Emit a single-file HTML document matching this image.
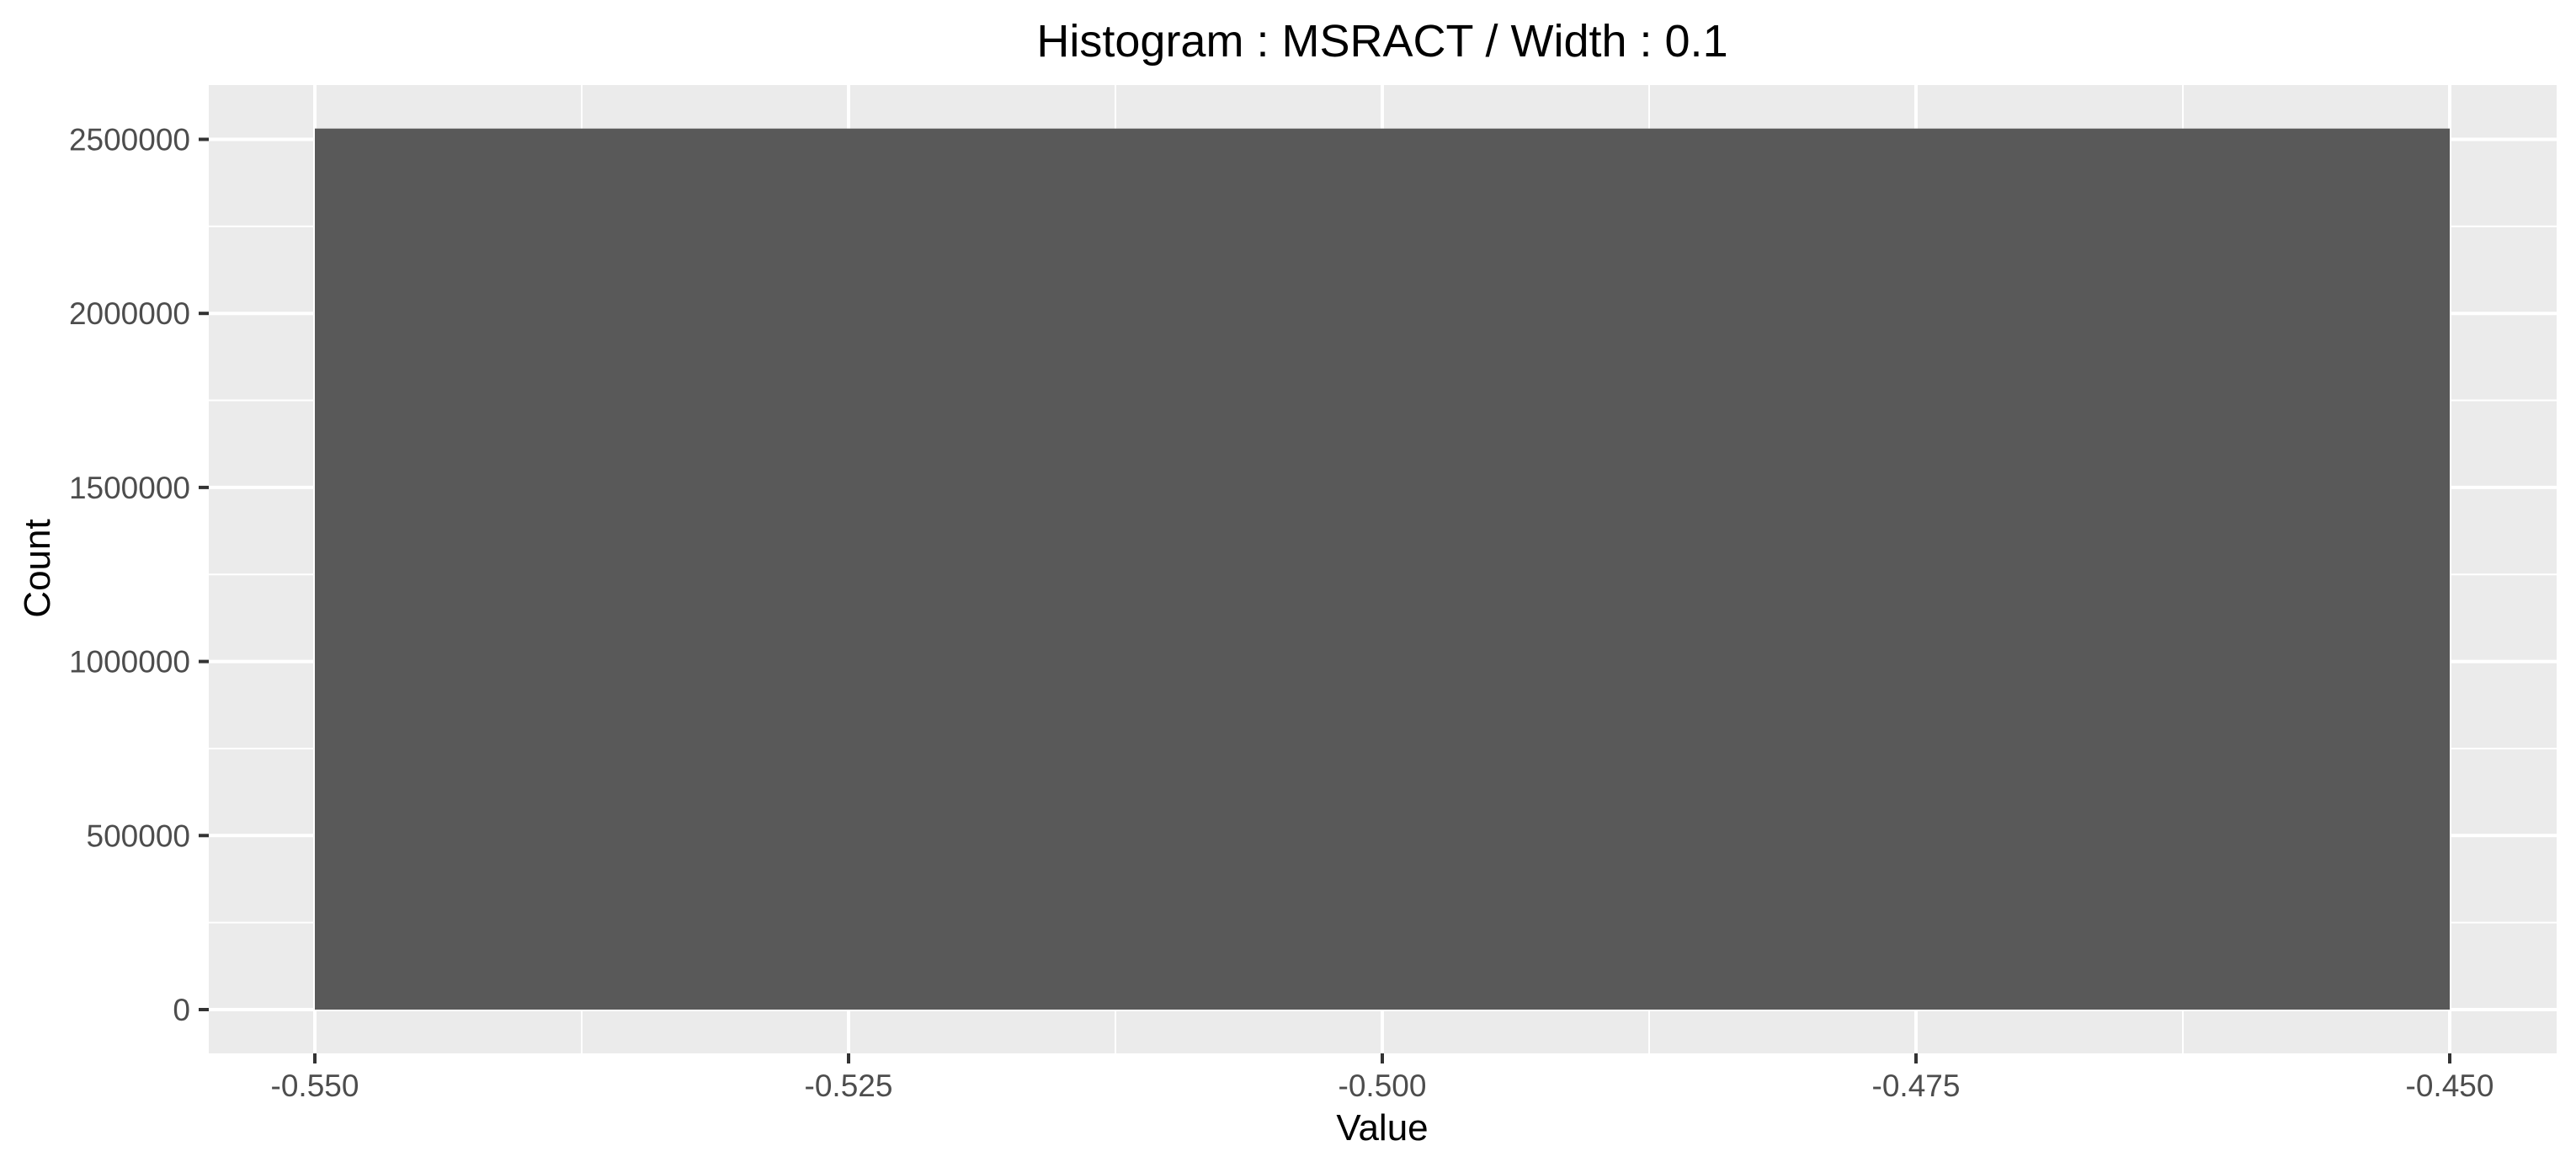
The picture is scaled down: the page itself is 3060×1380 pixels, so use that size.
<!DOCTYPE html>
<html><head><meta charset="utf-8"><style>
html,body{margin:0;padding:0;background:#fff;}
svg{display:block;font-family:"Liberation Sans",Arial,sans-serif;}
</style></head><body>
<svg id="chart" width="3060" height="1380" viewBox="0 0 3060 1380">
<rect x="0" y="0" width="3060" height="1380" fill="#fff"/>
<text x="1642" y="67" font-size="54" text-anchor="middle" fill="#000">Histogram : MSRACT / Width : 0.1</text>
<rect x="248" y="101" width="2789" height="1150" fill="#EBEBEB"/>
<g id="grid"></g>
<g id="bars"></g>
<g id="yaxis"></g>
<g id="xaxis"></g>
<text x="1642" y="1354" font-size="44" text-anchor="middle" fill="#000">Value</text>
<text transform="translate(59,675) rotate(-90)" font-size="44" text-anchor="middle" fill="#000">Count</text>
</svg>
<script>
const binStarts = [-0.55];
const binEnds = [-0.45];
const counts = [2531000];
const xTicks = [-0.55, -0.525, -0.5, -0.475, -0.45];
const xTickLabels = ["-0.550", "-0.525", "-0.500", "-0.475", "-0.450"];
const yTicks = [0, 500000, 1000000, 1500000, 2000000, 2500000];
const yTickLabels = ["0", "500000", "1000000", "1500000", "2000000", "2500000"];

const NS = "http://www.w3.org/2000/svg";
const PL = 248, PR = 3037, PT = 101, PB = 1251;
function xs(v){ return 374 + (v - (-0.55)) / 0.1 * (2910 - 374); }
function ys(v){ return 1199 - v / 500000 * 206.7; }
function mk(tag, attrs, parent){
  const e = document.createElementNS(NS, tag);
  for (const k in attrs) e.setAttribute(k, attrs[k]);
  parent.appendChild(e);
  return e;
}
const grid = document.getElementById('grid');
for (let i = 0; i < xTicks.length - 1; i++) {
  const m = (xTicks[i] + xTicks[i+1]) / 2;
  const l = mk('line', {x1: xs(m), x2: xs(m), y1: PT, y2: PB, stroke: '#fff', 'stroke-width': 2}, grid);
  
  
}
for (let i = 0; i < yTicks.length; i++) {
  const m = i < yTicks.length - 1 ? (yTicks[i] + yTicks[i+1]) / 2 : yTicks[i] + 250000;
  const yy = ys(m);
  if (yy < PT) continue;
  const l = mk('line', {x1: PL, x2: PR, y1: yy, y2: yy, stroke: '#fff', 'stroke-width': 2}, grid);
  
  
}
xTicks.forEach(v => {
  const l = mk('line', {x1: xs(v), x2: xs(v), y1: PT, y2: PB, stroke: '#fff', 'stroke-width': 4}, grid);
  
  
});
yTicks.forEach(v => {
  const l = mk('line', {x1: PL, x2: PR, y1: ys(v), y2: ys(v), stroke: '#fff', 'stroke-width': 4}, grid);
  
  
});
const bars = document.getElementById('bars');
counts.forEach((c, i) => {
  const x0 = xs(binStarts[i]), x1 = xs(binEnds[i]);
  const r = mk('rect', {x: x0, y: ys(c), width: x1 - x0, height: ys(0) - ys(c), fill: '#595959'}, bars);
  
  
});
const ya = document.getElementById('yaxis');
yTicks.forEach((v, i) => {
  const t = mk('line', {x1: 236, x2: PL, y1: ys(v), y2: ys(v), stroke: '#333', 'stroke-width': 4}, ya);
  
  
  const tx = mk('text', {x: 226, y: ys(v) + 13, 'font-size': 37, 'text-anchor': 'end', fill: '#4D4D4D'}, ya);
  tx.textContent = yTickLabels[i];
  
  
});
const xa = document.getElementById('xaxis');
xTicks.forEach((v, i) => {
  const t = mk('line', {x1: xs(v), x2: xs(v), y1: PB, y2: PB + 12, stroke: '#333', 'stroke-width': 4}, xa);
  
  
  const tx = mk('text', {x: xs(v), y: 1302, 'font-size': 37, 'text-anchor': 'middle', fill: '#4D4D4D'}, xa);
  tx.textContent = xTickLabels[i];
  
  
});
</script>
</body></html>
